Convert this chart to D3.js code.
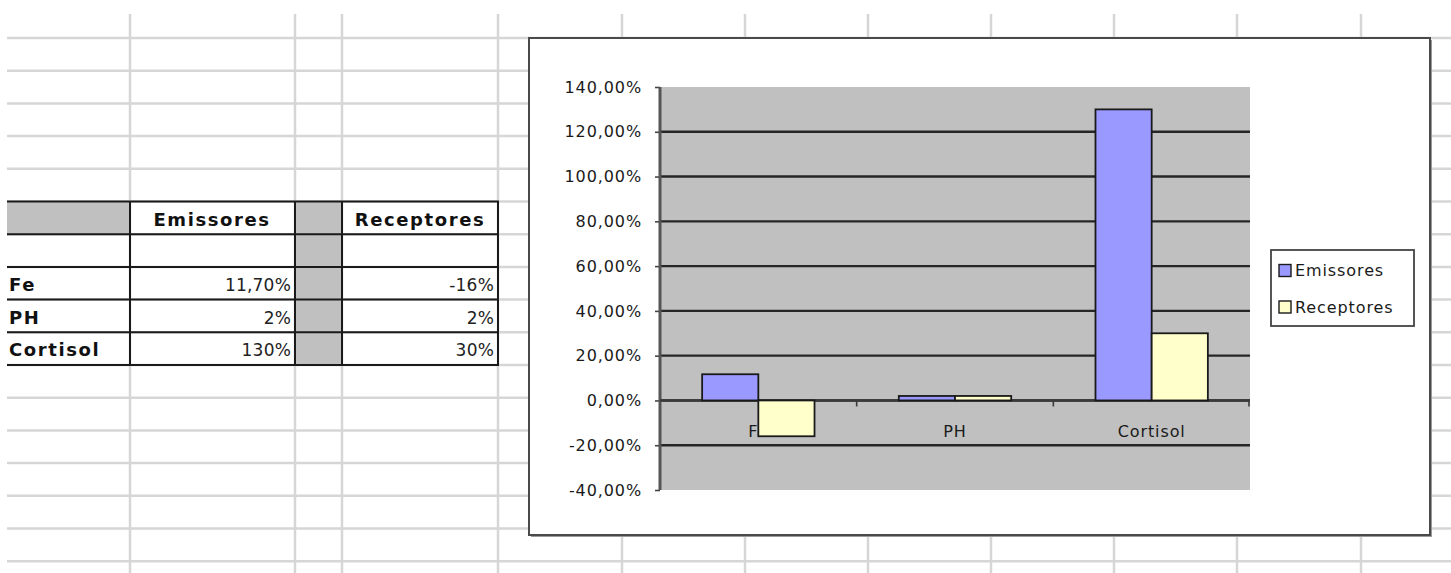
<!DOCTYPE html>
<html>
<head>
<meta charset="utf-8">
<script src="https://cdn.jsdelivr.net/npm/d3@7"></script>
<style>
    html, body { margin: 0; padding: 0; background: #fff; }
    svg { display: block; }
</style>
</head>
<body>
<div id="chart"></div>
<script>
// chart data
const categories = ['Fe', 'PH', 'Cortisol'];
const seriesNames = ['Emissores', 'Receptores'];
const emissores = [0.117, 0.02, 1.30];
const receptores = [-0.16, 0.02, 0.30];
const yTicks = [-0.4, -0.2, 0, 0.2, 0.4, 0.6, 0.8, 1.0, 1.2, 1.4];

// spreadsheet cells next to the chart
const tableEmissores = ['11,70%', '2%', '130%'];
const tableReceptores = ['-16%', '2%', '30%'];

const seriesValues = [emissores, receptores];
const seriesColors = ['#9999ff', '#ffffcc'];

const W = 1451, H = 573;
const svg = d3.select('#chart').append('svg')
    .attr('width', W)
    .attr('height', H);

// Portuguese style number format: 140,00%
const pt = d3.formatLocale({ decimal: ',', thousands: '.', grouping: [3], currency: ['', ''], minus: '-' });
const fmt = pt.format('.2%');

// --- sheet gridlines ---
const colLines = [130, 295, 342, 498, 622, 745, 868, 991, 1114, 1237, 1361];
const rowLines = d3.range(17).map(i => 38 + i * 32.7);

const sheet = svg.append('g');
sheet.selectAll('.vline')
    .data(colLines)
    .enter().append('line')
    .attr('x1', d => d).attr('x2', d => d)
    .attr('y1', 14).attr('y2', H)
    .attr('stroke', '#d6d6d6')
    .attr('stroke-width', 2.5);
sheet.selectAll('.hline')
    .data(rowLines)
    .enter().append('line')
    .attr('x1', 7).attr('x2', W)
    .attr('y1', d => d).attr('y2', d => d)
    .attr('stroke', '#d6d6d6')
    .attr('stroke-width', 2.5);

// --- the little table ---
const tTop = rowLines[5], tBottom = rowLines[10];
const table = svg.append('g');

table.append('rect')
    .attr('x', 7).attr('y', tTop)
    .attr('width', 130 - 7).attr('height', rowLines[6] - tTop)
    .attr('fill', '#c0c0c0');
table.append('rect')
    .attr('x', 295).attr('y', tTop)
    .attr('width', 342 - 295).attr('height', tBottom - tTop)
    .attr('fill', '#c0c0c0');

table.selectAll('.trow')
    .data(rowLines.slice(5, 11))
    .enter().append('line')
    .attr('x1', 7).attr('x2', 499)
    .attr('y1', d => d).attr('y2', d => d)
    .attr('stroke', '#1a1a1a')
    .attr('stroke-width', 2);
table.selectAll('.tcol')
    .data([130, 295, 342, 498])
    .enter().append('line')
    .attr('x1', d => d).attr('x2', d => d)
    .attr('y1', tTop).attr('y2', tBottom)
    .attr('stroke', '#1a1a1a')
    .attr('stroke-width', 2);

const boldCell = sel => sel
    .style('font-family', '"DejaVu Sans", sans-serif')
    .style('font-weight', 'bold')
    .style('font-size', '18px')
    .style('letter-spacing', '1.6px')
    .attr('fill', '#111');
const valueCell = sel => sel
    .style('font-family', '"DejaVu Sans", sans-serif')
    .style('font-size', '17px')
    .style('letter-spacing', '0.2px')
    .attr('fill', '#222');

table.append('text')
    .attr('x', 212).attr('y', tTop + 24)
    .attr('text-anchor', 'middle')
    .call(boldCell)
    .text(seriesNames[0]);
table.append('text')
    .attr('x', 420).attr('y', tTop + 24)
    .attr('text-anchor', 'middle')
    .call(boldCell)
    .text(seriesNames[1]);

categories.forEach((c, i) => {
    const base = rowLines[7 + i] + 24;
    table.append('text')
        .attr('x', 9).attr('y', base)
        .call(boldCell)
        .text(c);
    table.append('text')
        .attr('x', 291).attr('y', base)
        .attr('text-anchor', 'end')
        .call(valueCell)
        .text(tableEmissores[i]);
    table.append('text')
        .attr('x', 494).attr('y', base)
        .attr('text-anchor', 'end')
        .call(valueCell)
        .text(tableReceptores[i]);
});

// --- chart object ---
const box = { x: 529, y: 38, w: 901, h: 497 };
const plot = { left: 660, right: 1250, top: 87, bottom: 490 };

const chart = svg.append('g');
chart.append('rect')
    .attr('x', box.x + 2).attr('y', box.y + 2)
    .attr('width', box.w).attr('height', box.h)
    .attr('fill', '#9a9a9a');
chart.append('rect')
    .attr('x', box.x).attr('y', box.y)
    .attr('width', box.w).attr('height', box.h)
    .attr('fill', '#fff')
    .attr('stroke', '#4a4a4a')
    .attr('stroke-width', 2);

const y = d3.scaleLinear()
    .domain([yTicks[0], yTicks[yTicks.length - 1]])
    .range([plot.bottom, plot.top]);

const x0 = d3.scaleBand()
    .domain(categories)
    .range([plot.left, plot.right])
    .padding(0);

// gap width 150% like Excel
const x1 = d3.scaleBand()
    .domain(seriesNames)
    .range([0, x0.bandwidth()])
    .paddingInner(0)
    .paddingOuter(0.75);

const chartFont = sel => sel
    .style('font-family', '"DejaVu Sans", sans-serif')
    .style('font-size', '16px')
    .style('letter-spacing', '0.9px')
    .attr('fill', '#1a1a1a');

// plot area
chart.append('rect')
    .attr('x', plot.left).attr('y', plot.top)
    .attr('width', plot.right - plot.left)
    .attr('height', plot.bottom - plot.top)
    .attr('fill', '#c0c0c0');

// gridlines
chart.append('g')
    .selectAll('line')
    .data(yTicks.slice(1, -1))
    .enter().append('line')
    .attr('x1', plot.left).attr('x2', plot.right)
    .attr('y1', d => y(d)).attr('y2', d => y(d))
    .attr('stroke', '#262626')
    .attr('stroke-width', 2.4);

// y axis
const yAxis = chart.append('g')
    .attr('transform', `translate(${plot.left},0)`)
    .call(d3.axisLeft(y)
        .tickValues(yTicks)
        .tickFormat(fmt)
        .tickSize(5)
        .tickPadding(13));
yAxis.select('.domain').remove();
yAxis.selectAll('.tick line').attr('stroke', '#444').attr('stroke-width', 1.6);
yAxis.selectAll('.tick text').call(chartFont);
chart.append('line')
    .attr('x1', plot.left).attr('x2', plot.left)
    .attr('y1', plot.top).attr('y2', plot.bottom)
    .attr('stroke', '#555')
    .attr('stroke-width', 3);

// category labels sit under the bars (Fe is partly hidden, as in the original)
chart.append('g')
    .selectAll('text')
    .data(categories)
    .enter().append('text')
    .attr('x', d => x0(d) + x0.bandwidth() / 2)
    .attr('y', y(0) + 37)
    .attr('text-anchor', 'middle')
    .call(chartFont)
    .text(d => d);

// category axis at zero
chart.append('line')
    .attr('x1', plot.left).attr('x2', plot.right)
    .attr('y1', y(0)).attr('y2', y(0))
    .attr('stroke', '#3a3a3a')
    .attr('stroke-width', 2.2);
chart.append('g')
    .selectAll('line')
    .data(categories.slice(1).concat(['__end']))
    .enter().append('line')
    .attr('x1', d => d === '__end' ? plot.right - 1 : x0(d))
    .attr('x2', d => d === '__end' ? plot.right - 1 : x0(d))
    .attr('y1', y(0)).attr('y2', y(0) + 6)
    .attr('stroke', '#3a3a3a')
    .attr('stroke-width', 1.6);

// bars
seriesNames.forEach((s, si) => {
    chart.append('g')
        .selectAll('rect')
        .data(categories.map((c, i) => ({ cat: c, value: seriesValues[si][i] })))
        .enter().append('rect')
        .attr('x', d => x0(d.cat) + x1(s))
        .attr('y', d => y(Math.max(0, d.value)))
        .attr('width', x1.bandwidth())
        .attr('height', d => Math.abs(y(d.value) - y(0)))
        .attr('fill', seriesColors[si])
        .attr('stroke', '#1a1a1a')
        .attr('stroke-width', 1.8);
});

// legend
const legend = chart.append('g');
legend.append('rect')
    .attr('x', 1271).attr('y', 250)
    .attr('width', 143).attr('height', 76)
    .attr('fill', '#fff')
    .attr('stroke', '#444')
    .attr('stroke-width', 1.8);
seriesNames.forEach((s, i) => {
    const cy = 270.5 + i * 36.5;
    legend.append('rect')
        .attr('x', 1279).attr('y', cy - 6)
        .attr('width', 12).attr('height', 12)
        .attr('fill', seriesColors[i])
        .attr('stroke', '#1a1a1a')
        .attr('stroke-width', 1.4);
    legend.append('text')
        .attr('x', 1295).attr('y', cy)
        .attr('dy', '0.35em')
        .call(chartFont)
        .text(s);
});
</script>
</body>
</html>
